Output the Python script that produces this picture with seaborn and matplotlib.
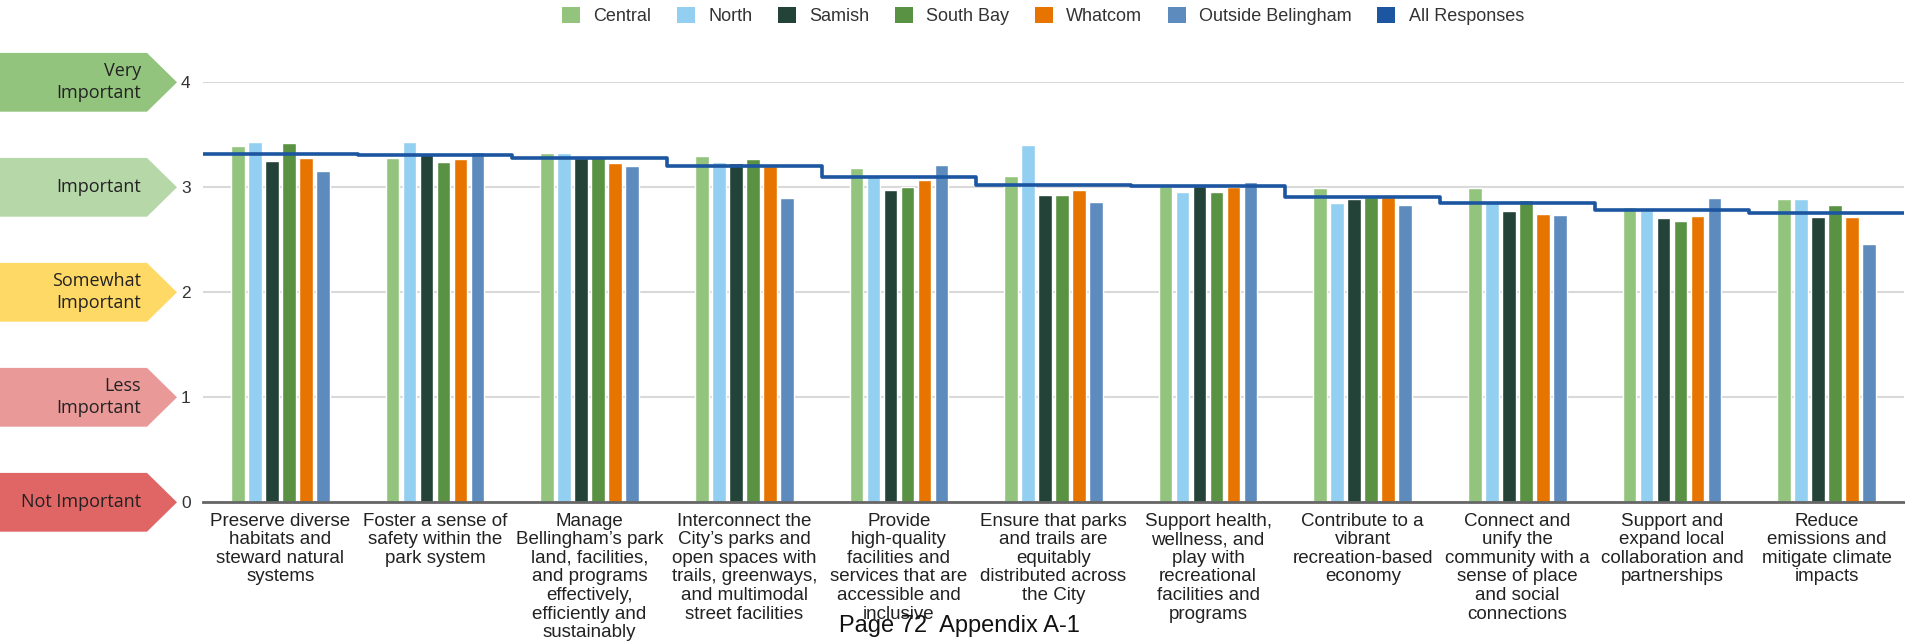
import numpy as np
import pandas as pd
import seaborn as sns
import matplotlib.pyplot as plt
from matplotlib.patches import Patch, Polygon
from matplotlib.transforms import blended_transform_factory

goals = [
    "Preserve diverse\nhabitats and\nsteward natural\nsystems",
    "Foster a sense of\nsafety within the\npark system",
    "Manage\nBellingham’s park\nland, facilities,\nand programs\neffectively,\nefficiently and\nsustainably",
    "Interconnect the\nCity’s parks and\nopen spaces with\ntrails, greenways,\nand multimodal\nstreet facilities",
    "Provide\nhigh-quality\nfacilities and\nservices that are\naccessible and\ninclusive",
    "Ensure that parks\nand trails are\nequitably\ndistributed across\nthe City",
    "Support health,\nwellness, and\nplay with\nrecreational\nfacilities and\nprograms",
    "Contribute to a\nvibrant\nrecreation-based\neconomy",
    "Connect and\nunify the\ncommunity with a\nsense of place\nand social\nconnections",
    "Support and\nexpand local\ncollaboration and\npartnerships",
    "Reduce\nemissions and\nmitigate climate\nimpacts",
]

regions = ["Central", "North", "Samish", "South Bay", "Whatcom", "Outside Belingham"]
central = [3.39, 3.28, 3.33, 3.30, 3.18, 3.11, 3.01, 2.99, 2.99, 2.81, 2.89]
north = [3.43, 3.43, 3.33, 3.24, 3.11, 3.40, 2.96, 2.85, 2.87, 2.78, 2.89]
samish = [3.25, 3.33, 3.28, 3.23, 2.97, 2.93, 3.01, 2.89, 2.77, 2.71, 2.72]
south_bay = [3.42, 3.24, 3.30, 3.27, 3.00, 2.93, 2.96, 2.91, 2.88, 2.68, 2.83]
whatcom = [3.28, 3.27, 3.23, 3.20, 3.07, 2.97, 3.00, 2.91, 2.75, 2.73, 2.72]
outside = [3.16, 3.34, 3.20, 2.90, 3.21, 2.86, 3.05, 2.83, 2.74, 2.90, 2.46]
all_responses = [3.32, 3.31, 3.28, 3.20, 3.10, 3.02, 3.01, 2.91, 2.85, 2.78, 2.76]

importance = ["Not Important", "Less\nImportant", "Somewhat\nImportant", "Important", "Very\nImportant"]
importance_colors = ["#e06666", "#ea9999", "#ffd966", "#b6d7a8", "#93c47d"]

colors = ["#93c47d", "#93cff0", "#234238", "#5a9244", "#e87400", "#5d8bbe"]
line_color = "#1c56a0"

series = [central, north, samish, south_bay, whatcom, outside]
df = pd.DataFrame({
    "goal": goals * len(regions),
    "region": [r for r in regions for _ in goals],
    "score": [v for s in series for v in s],
})

sns.set_style("white")
plt.rcParams["font.family"] = ["Liberation Sans", "DejaVu Sans"]

fig = plt.figure(figsize=(19.05, 6.41), dpi=100)
ax = fig.add_axes([203 / 1905, 138.7 / 641, 1701 / 1905, 420 / 641])

sns.barplot(data=df, x="goal", y="score", hue="region", palette=colors,
            width=0.66, gap=0.2, saturation=1, legend=False, ax=ax, zorder=2)

# all responses drawn as a step line across each category
ax.stairs(all_responses, edges=np.arange(len(goals) + 1) - 0.5, baseline=None,
          color=line_color, lw=2.6, zorder=3, joinstyle="round")

ax.set_xlim(-0.5, len(goals) - 0.5)
ax.set_ylim(0, 4)
ax.set_yticks([0, 1, 2, 3, 4])
ax.yaxis.grid(True, color="#d9d9d9", lw=1.5)
ax.set_axisbelow(True)
for side in ["top", "right", "left"]:
    ax.spines[side].set_visible(False)
ax.spines["bottom"].set_color("#666666")
ax.spines["bottom"].set_linewidth(2)
ax.tick_params(axis="y", length=0, pad=9, labelsize=12.5, labelcolor="#333333")
ax.tick_params(axis="x", length=0, pad=7.5, labelsize=13.5, labelcolor="#222222")
for lbl in ax.get_xticklabels():
    lbl.set_linespacing(1.12)
    lbl.set_verticalalignment("top")
ax.set_xlabel("")
ax.set_ylabel("")

# importance arrows on the left
tr = blended_transform_factory(fig.transFigure, ax.transData)
W = 1905
h = 0.28
for i, (lab, col) in enumerate(zip(importance, importance_colors)):
    pts = [(0, i - h), (147 / W, i - h), (177 / W, i), (147 / W, i + h), (0, i + h)]
    ax.add_patch(Polygon(pts, closed=True, facecolor=col, edgecolor="none",
                         transform=tr, clip_on=False))
    ax.text(141 / W, i, lab, transform=tr, ha="right", va="center", fontsize=13,
            family=["Open Sans", "DejaVu Sans"], color="#222222", linespacing=1.3)

handles = [Patch(facecolor=c, edgecolor="none") for c in colors] + [Patch(facecolor=line_color, edgecolor="none")]
names = regions + ["All Responses"]
fig.legend(handles, names, loc="center", bbox_to_anchor=(1043 / W, 1 - 16 / 641),
           ncol=7, frameon=False, fontsize=13, handlelength=1.0, handleheight=1.0,
           handletextpad=0.75, columnspacing=1.4, labelcolor="#333333")

fig.text(959 / W, 1 - 632 / 641, "Page 72  Appendix A-1", ha="center", va="baseline",
         fontsize=17, color="#111111")

fig.savefig("out.png", dpi=100)
